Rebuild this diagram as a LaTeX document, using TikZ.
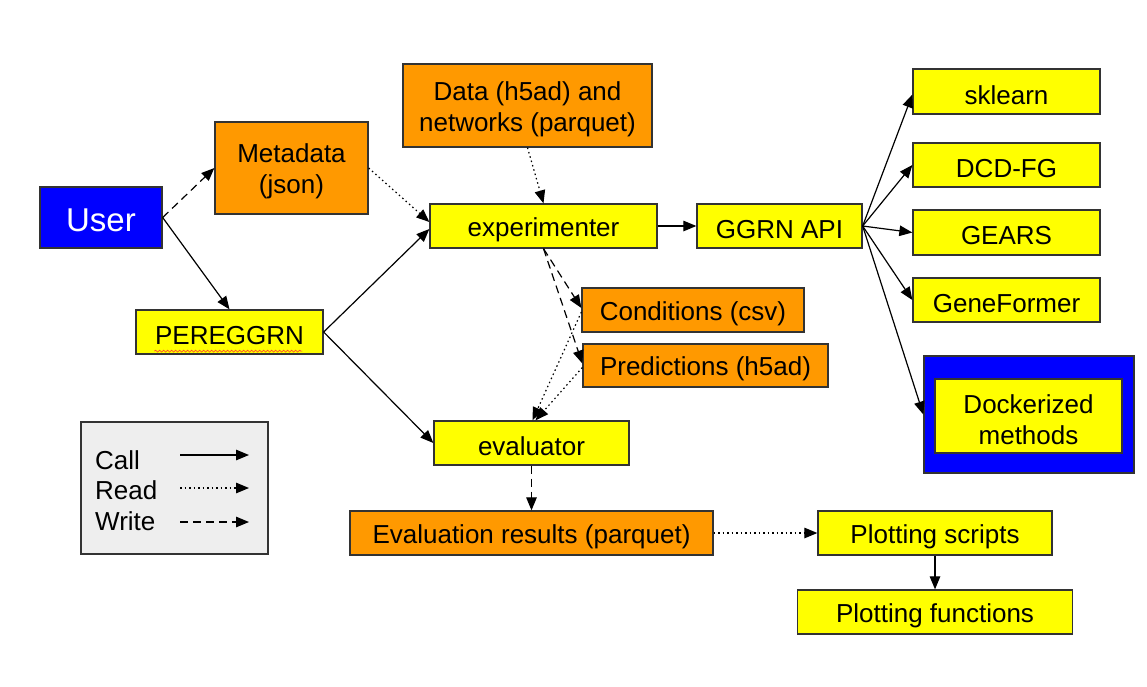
\documentclass[tikz,border=0pt]{standalone}
\usepackage{fontspec}
\setmainfont{Liberation Sans}
\usetikzlibrary{arrows.meta,calc,decorations.pathmorphing}
\definecolor{orng}{RGB}{255,153,0}
\definecolor{yllw}{RGB}{255,255,0}
\definecolor{blu}{RGB}{0,0,255}
\definecolor{lgray}{RGB}{238,238,238}
\definecolor{bord}{RGB}{51,51,51}
\tikzset{
  box/.style={draw=bord, line width=1.3pt, inner sep=0pt},
  ybox/.style={box, fill=yllw},
  obox/.style={box, fill=orng},
  txt/.style={inner sep=0pt, align=center, font=\fontsize{26}{31}\selectfont},
  call/.style={line width=1.2pt, -{Triangle[length=13pt,width=10.5pt]}},
  readarr/.style={line width=1.2pt, dash pattern=on 1.5pt off 3pt, -{Triangle[length=13pt,width=10.5pt]}},
  writearr/.style={line width=1.2pt, dash pattern=on 8pt off 5pt, -{Triangle[length=13pt,width=10.5pt]}},
}
% #1 style, #2 name, #3 position, #4 width, #5 height, #6 text
\newcommand\mybox[6]{%
  \node[#1, minimum width=#4, minimum height=#5] (#2) at #3 {};
  \node[txt, yshift=-3.5pt] (#2-t) at (#2) {#6};}
\begin{document}
\begin{tikzpicture}[x=1pt,y=-1pt]
\useasboundingbox (0,0) rectangle (1147,686);
% nodes
\node[box, fill=blu, minimum width=122pt, minimum height=61pt] (user) at (101,217.5) {};
\node[txt, text=white, font=\fontsize{33}{38}\selectfont, yshift=-3pt] (user-t) at (user) {User};
\mybox{obox}{meta}{(291.5,168)}{153pt}{92pt}{Metadata\\(json)}
\mybox{obox}{data}{(527.5,105.5)}{249pt}{83pt}{Data (h5ad) and\\networks (parquet)}
\mybox{ybox}{exp}{(543.5,226)}{227pt}{44pt}{experimenter}
\mybox{ybox}{ggrn}{(779.5,226)}{165pt}{44pt}{GGRN API}
\mybox{ybox}{skl}{(1006.5,91.5)}{187pt}{45pt}{sklearn}
\mybox{ybox}{dcd}{(1006.5,165)}{187pt}{44pt}{DCD-FG}
\mybox{ybox}{gears}{(1006.5,232.5)}{187pt}{45pt}{GEARS}
\mybox{ybox}{gf}{(1006.5,300)}{187pt}{44pt}{GeneFormer}
\node[box, fill=blu, minimum width=210pt, minimum height=117pt] (dockout) at (1029,414.5) {};
\mybox{ybox}{dock}{(1028.5,416)}{187pt}{74pt}{Dockerized\\methods}
\mybox{ybox}{pere}{(229.5,332)}{187pt}{44pt}{PEREGGRN}
\mybox{obox}{cond}{(693,310)}{222pt}{44pt}{Conditions (csv)}
\mybox{obox}{pred}{(705.5,365.5)}{245pt}{43pt}{Predictions (h5ad)}
\mybox{ybox}{eval}{(531.5,443)}{195pt}{44pt}{evaluator}
\mybox{obox}{evres}{(531.5,533)}{363pt}{44pt}{Evaluation results (parquet)}
\mybox{ybox}{ps}{(935,533)}{234pt}{44pt}{Plotting scripts}
\mybox{ybox}{pf}{(935,612)}{275pt}{44pt}{Plotting functions}
% spell-check underline
\draw[red!80, line width=0.6pt, decorate, decoration={snake, amplitude=1pt, segment length=4pt}]
  ($(pere.south west)+(19,-3.5)$) -- ($(pere.south west)+(167,-3.5)$);
% legend
\node[box, fill=lgray, minimum width=187pt, minimum height=132pt] (leg) at (174.5,488) {};
\node[txt, anchor=west] (lcall) at (95,460) {Call};
\node[txt, anchor=west] (lread) at (95,490) {Read};
\node[txt, anchor=west] (lwrite) at (95,521) {Write};
\coordinate (c1) at (180,455); \coordinate (c2) at (249,455);
\coordinate (r1) at (180,488); \coordinate (r2) at (249,488);
\coordinate (w1) at (180,522); \coordinate (w2) at (249,522);
\draw[call] (c1) -- (c2);
\draw[readarr] (r1) -- (r2);
\draw[writearr] (w1) -- (w2);
% edges
\draw[writearr] (user.east) -- (meta.west);
\draw[call] (user.east) -- (pere.north);
\draw[readarr] (meta.east) -- ([yshift=4pt]exp.west);
\draw[call] (pere.east) -- ([yshift=-3pt]exp.west);
\draw[call] (pere.east) -- (eval.west);
\draw[readarr] (data.south) -- (exp.north);
\draw[call] (exp.east) -- (ggrn.west);
\draw[writearr] (exp.south) -- ([yshift=2pt]cond.west);
\draw[writearr] (exp.south) -- ([yshift=2pt]pred.west);
\draw[readarr] ([yshift=-2pt]cond.west) -- ([xshift=1pt]eval.north);
\draw[readarr] ([yshift=-2pt]pred.west) -- ([xshift=4pt]eval.north);
\draw[writearr] (eval.south) -- (evres.north);
\draw[readarr] (evres.east) -- (ps.west);
\draw[call] (ps.south) -- (pf.north);
\draw[call] (ggrn.east) -- ([yshift=-3pt]skl.west);
\draw[call] (ggrn.east) -- (dcd.west);
\draw[call] (ggrn.east) -- (gears.west);
\draw[call] (ggrn.east) -- (gf.west);
\draw[call] (ggrn.east) -- (dockout.west);
\end{tikzpicture}
\end{document}
